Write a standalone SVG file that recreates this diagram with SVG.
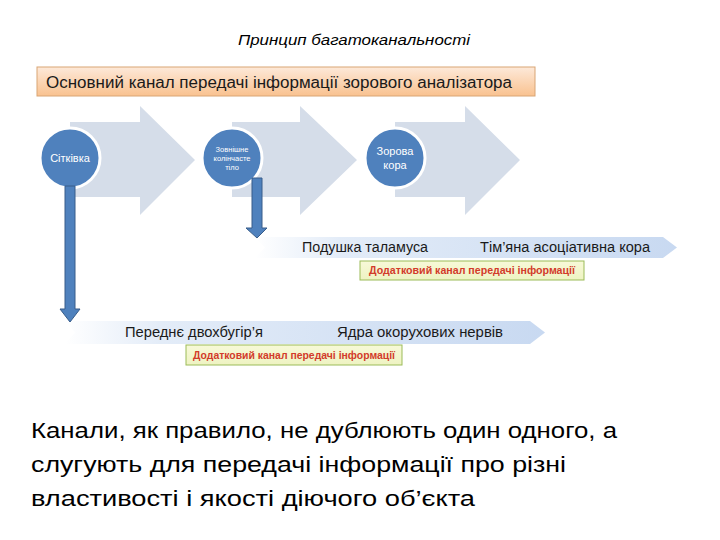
<svg xmlns="http://www.w3.org/2000/svg" width="720" height="540" viewBox="0 0 720 540">
<style>
.t{font-family:"Liberation Sans",Arial,sans-serif}
.big{fill:#d5dde9}
.circ{fill:#4f81bd;stroke:#ffffff;stroke-width:3}
.ct{fill:#ffffff;text-anchor:middle}
.down{fill:#4f81bd;stroke:#385d8a;stroke-width:1}
.ban{fill:url(#banG)}
.bt{font-size:14px;fill:#1a1a1a}
.lab{fill:url(#labG);stroke:#9bbb59;stroke-width:1}
.lt{font-size:11px;font-weight:bold;fill:#d23b2a;text-anchor:middle}
.para{font-size:22px;fill:#000000}
</style>
<defs>
<linearGradient id="orG" x1="0" y1="0" x2="0" y2="1">
<stop offset="0" stop-color="#fde9d9"/>
<stop offset="1" stop-color="#f9c290"/>
</linearGradient>
<linearGradient id="banG" x1="0" y1="0" x2="1" y2="0">
<stop offset="0" stop-color="#ffffff"/>
<stop offset="0.2" stop-color="#e3ecf8"/>
<stop offset="1" stop-color="#c8d9f1"/>
</linearGradient>
<linearGradient id="labG" x1="0" y1="0" x2="0" y2="1">
<stop offset="0" stop-color="#f7f9d8"/>
<stop offset="1" stop-color="#eef3c2"/>
</linearGradient>
</defs>
<rect width="720" height="540" fill="#ffffff"/>

<g id="title">
<text class="t" x="238" y="45" font-size="15" font-style="italic" fill="#000" textLength="232" lengthAdjust="spacingAndGlyphs">Принцип багатоканальності</text>
</g>

<g id="main-channel">
<rect x="37" y="67" width="498" height="29" fill="url(#orG)" stroke="#d9a574" stroke-width="1"/>
<text class="t" x="46" y="88" font-size="16" fill="#1a1a1a" textLength="466" lengthAdjust="spacingAndGlyphs">Основний канал передачі інформації зорового аналізатора</text>
</g>

<g id="big-arrows">
<path class="big" d="M70,122 L140,122 L140,106 L195,160 L140,215 L140,197 L70,197 Z"/>
<path class="big" d="M232,122 L300,122 L300,106 L357,160 L300,215 L300,197 L232,197 Z"/>
<path class="big" d="M395,122 L465,122 L465,106 L520,160 L465,215 L465,197 L395,197 Z"/>
</g>

<g id="node-sitkivka">
<circle class="circ" cx="70" cy="158" r="30"/>
<text class="t ct" x="70" y="162" font-size="11">Сітківка</text>
</g>
<g id="node-kolinchaste">
<circle class="circ" cx="232" cy="158" r="30"/>
<text class="t ct" x="232" y="152" font-size="7.5">Зовнішне</text>
<text class="t ct" x="232" y="161" font-size="7.5">колінчасте</text>
<text class="t ct" x="232" y="170" font-size="7.5">тіло</text>
</g>
<g id="node-zorova">
<circle class="circ" cx="395" cy="158" r="30"/>
<text class="t ct" x="395" y="155" font-size="11">Зорова</text>
<text class="t ct" x="395" y="169" font-size="11">кора</text>
</g>

<g id="banner-1">
<path class="ban" d="M255,237 L663,237 L677,247.5 L663,258 L255,258 L265,247.5 Z"/>
<text class="t bt" x="302" y="252" textLength="126" lengthAdjust="spacingAndGlyphs">Подушка таламуса</text>
<text class="t bt" x="480" y="252" textLength="170" lengthAdjust="spacingAndGlyphs">Тім’яна асоціативна кора</text>
</g>
<g id="label-1">
<rect class="lab" x="360" y="261" width="224" height="19"/>
<text class="t lt" x="472" y="274" textLength="206" lengthAdjust="spacingAndGlyphs">Додатковий канал передачі інформації</text>
</g>

<g id="banner-2">
<path class="ban" d="M65,321 L530,321 L545,332.5 L530,344 L65,344 L75,332.5 Z"/>
<text class="t bt" x="125" y="337" textLength="138" lengthAdjust="spacingAndGlyphs">Переднє двохбугір’я</text>
<text class="t bt" x="337" y="337" textLength="166" lengthAdjust="spacingAndGlyphs">Ядра окорухових нервів</text>
</g>
<g id="label-2">
<rect class="lab" x="186" y="345" width="216" height="20"/>
<text class="t lt" x="294" y="359" textLength="202" lengthAdjust="spacingAndGlyphs">Додатковий канал передачі інформації</text>
</g>

<g id="connectors">
<path class="down" d="M65,186 L75,186 L75,309 L80,309 L70,322 L60,309 L65,309 Z"/>
<path class="down" d="M252,178 L262,178 L262,228 L267,228 L257,238 L246,228 L252,228 Z"/>
</g>

<g id="paragraph">
<text class="t para" x="31" y="438" textLength="586" lengthAdjust="spacingAndGlyphs">Канали, як правило, не дублюють один одного, а</text>
<text class="t para" x="31" y="472" textLength="535" lengthAdjust="spacingAndGlyphs">слугують для передачі інформації про різні</text>
<text class="t para" x="31" y="506" textLength="444" lengthAdjust="spacingAndGlyphs">властивості і якості діючого об’єкта</text>
</g>
</svg>
